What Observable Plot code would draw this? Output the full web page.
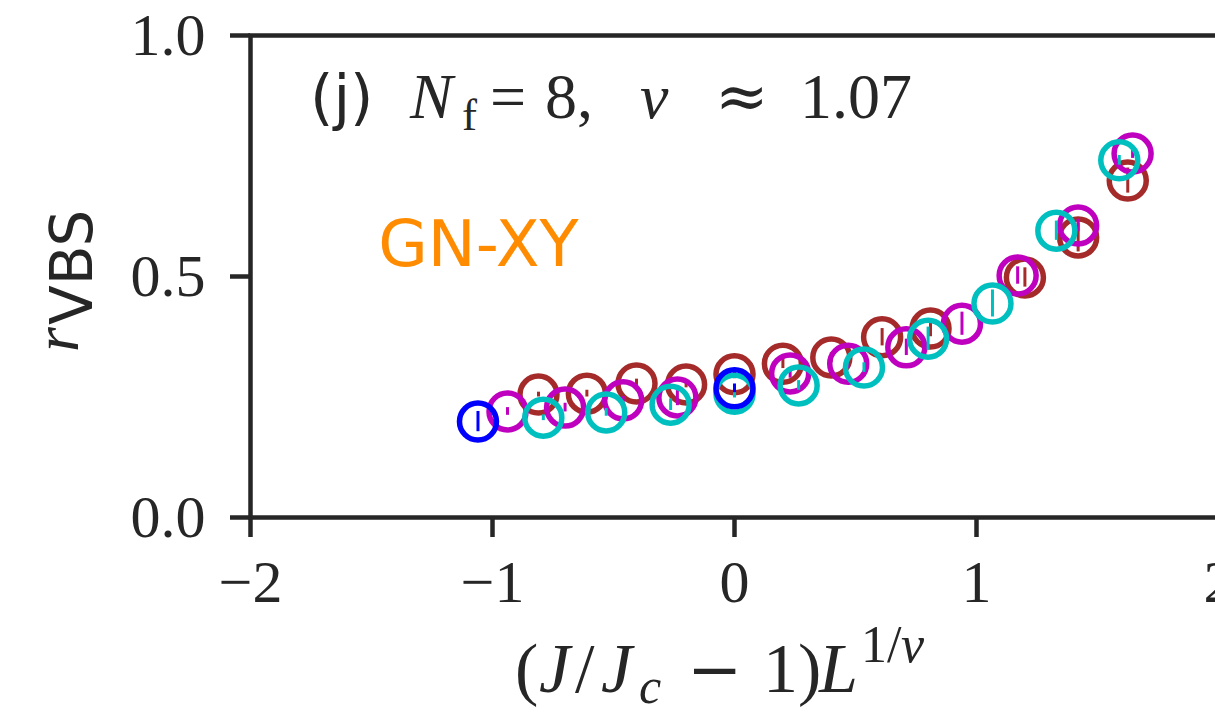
<!DOCTYPE html>
<html>
<head>
<meta charset="utf-8">
<script src="https://cdn.jsdelivr.net/npm/d3@7"></script>
<script src="https://cdn.jsdelivr.net/npm/@observablehq/plot@0.6"></script>
<style>
  html, body { margin: 0; padding: 0; background: #fff; overflow: hidden; }
  #chart { width: 1215px; height: 713px; overflow: hidden; }
  #chart svg { max-width: none !important; }
</style>
</head>
<body>
<div id="chart"></div>
<script>
// Scaling collapse of r_VBS for several system sizes (one array set per size)
const brownX   = [-0.81, -0.61, -0.405, -0.20, 0.00, 0.20, 0.40, 0.61, 0.81, 1.20, 1.42, 1.625];
const brownY   = [0.255, 0.257, 0.278, 0.276, 0.297, 0.319, 0.332, 0.374, 0.392, 0.498, 0.581, 0.699];
const brownErr = [0.005, 0.007, 0.009, 0.007, 0.009, 0.010, 0.010, 0.018, 0.017, 0.020, 0.030, 0.026];

const magentaX   = [-0.938, -0.70, -0.46, -0.236, 0.23, 0.47, 0.71, 0.94, 1.17, 1.42, 1.645];
const magentaY   = [0.220, 0.228, 0.243, 0.249, 0.299, 0.319, 0.353, 0.402, 0.502, 0.606, 0.755];
const magentaErr = [0.008, 0.009, 0.008, 0.017, 0.010, 0.010, 0.017, 0.024, 0.018, 0.013, 0.010];

const cyanX   = [-0.79, -0.53, -0.264, 0.00, 0.265, 0.535, 0.80, 1.066, 1.33, 1.59];
const cyanY   = [0.207, 0.218, 0.234, 0.257, 0.274, 0.311, 0.371, 0.444, 0.595, 0.741];
const cyanErr = [0.006, 0.008, 0.012, 0.009, 0.010, 0.010, 0.024, 0.028, 0.020, 0.010];

const blueX   = [-1.06, 0.00];
const blueY   = [0.199, 0.268];
const blueErr = [0.021, 0.009];

const seriesNames  = ["brown", "magenta", "cyan", "blue"];
const seriesColors = ["#a52a2a", "#bf00bf", "#00bfbf", "#0000ff"];
const seriesCols   = [[brownX, brownY, brownErr], [magentaX, magentaY, magentaErr],
                      [cyanX, cyanY, cyanErr], [blueX, blueY, blueErr]];

const xTicks = [-2, -1, 0, 1, 2];
const yTicks = [0, 0.5, 1.0];

const ink = "#262626";
const mathFont = "'Liberation Serif', serif";
const symFont = "'DejaVu Serif', serif";
const sansFont = "'DejaVu Sans', sans-serif";

// Each size: error bar first, then the open circle on top of it
const seriesMarks = seriesCols.flatMap(([xs, ys, es], i) => {
  const rows = xs.map((x, j) => ({x, y: ys[j], lo: ys[j] - es[j], hi: ys[j] + es[j], size: seriesNames[i]}));
  return [
    Plot.ruleX(rows, {x: "x", y1: "lo", y2: "hi", stroke: seriesColors[i], strokeWidth: 3}),
    Plot.dot(rows, {x: "x", y: "y", r: 18.5, stroke: seriesColors[i], strokeWidth: 5.5, fill: "none"})
  ];
});

const chart = Plot.plot({
  width: 1260,
  height: 713,
  marginLeft: 250,
  marginRight: 42,
  marginTop: 35,
  marginBottom: 196,
  style: {background: "white", color: ink, overflow: "visible", maxWidth: "none"},
  x: {domain: [-2, 2]},
  y: {domain: [0, 1]},
  marks: [
    ...seriesMarks,
    Plot.frame({stroke: ink, strokeWidth: 4.5}),
    Plot.axisX({ticks: xTicks, tickSize: 20, tickPadding: 22, strokeWidth: 4.5, stroke: ink,
                fontSize: 60, fontFamily: mathFont, label: null,
                tickFormat: d => d < 0 ? "\u2212" + Math.abs(d) : String(d)}),
    Plot.axisY({ticks: yTicks, tickSize: 20, tickPadding: 25, strokeWidth: 4.5, stroke: ink,
                fontSize: 60, fontFamily: mathFont, label: null,
                tickFormat: d3.format(".1f")})
  ]
});

document.getElementById("chart").append(chart);

const sx = chart.scale("x"), sy = chart.scale("y");
const svg = d3.select(chart);

// Lay out a run of math pieces at fixed horizontal offsets from an origin
function mathText(parent, x0, y0, size, pieces) {
  const t = parent.append("text").attr("x", x0).attr("y", y0)
    .attr("text-anchor", "start").attr("fill", ink)
    .style("font-size", size + "px").style("font-family", mathFont);
  for (const p of pieces) {
    const s = t.append("tspan").attr("x", x0 + p.dx).attr("y", y0 + (p.dy || 0)).text(p.text);
    if (p.italic) s.style("font-style", "italic");
    if (p.size) s.style("font-size", p.size + "px");
    if (p.font) s.style("font-family", p.font);
  }
  return t;
}

// Panel annotation: (j) N_f = 8, ν ≈ 1.07
const ax0 = sx.apply(-1.752), ay0 = sy.apply(0.828);
mathText(svg, ax0, ay0, 64, [
  {text: "(j)", dx: 0, font: sansFont, size: 60},
  {text: "N", dx: 100, italic: true},
  {text: "f", dx: 152, dy: 12, size: 45},
  {text: "=", dx: 180},
  {text: "8,", dx: 235},
  {text: "\u03bd", dx: 330, italic: true},
  {text: "\u2248", dx: 405, font: symFont},
  {text: "1.07", dx: 490}
]);

// Model label
svg.append("text")
  .attr("x", sx.apply(-1.47)).attr("y", sy.apply(0.52))
  .attr("text-anchor", "start").attr("fill", "#ff8c00")
  .style("font-size", "64px").style("font-family", sansFont)
  .text("GN-XY");

// x-axis label: (J/J_c − 1) L^{1/ν}
const lx0 = sx.apply(-0.905);
mathText(svg, lx0, 692, 70, [
  {text: "(", dx: 0},
  {text: "J", dx: 24, italic: true},
  {text: "/", dx: 60},
  {text: "J", dx: 86, italic: true},
  {text: "c", dx: 124, dy: 11, italic: true, size: 50},
  {text: "\u2212", dx: 172, font: symFont, size: 66},
  {text: "1)", dx: 248},
  {text: "L", dx: 304, italic: true},
  {text: "1/", dx: 346, dy: -30, size: 52},
  {text: "\u03bd", dx: 386, dy: -30, italic: true, size: 52}
]);

// y-axis label: r_VBS
const yl = svg.append("text")
  .attr("transform", `translate(78, ${sy.apply(0.49)}) rotate(-90)`)
  .attr("text-anchor", "middle").attr("fill", ink)
  .style("font-size", "64px").style("font-family", mathFont);
yl.append("tspan").text("r").style("font-style", "italic");
yl.append("tspan").attr("dx", 2).attr("dy", 14).text("VBS").style("font-family", sansFont).style("font-size", "58px");
</script>
</body>
</html>
